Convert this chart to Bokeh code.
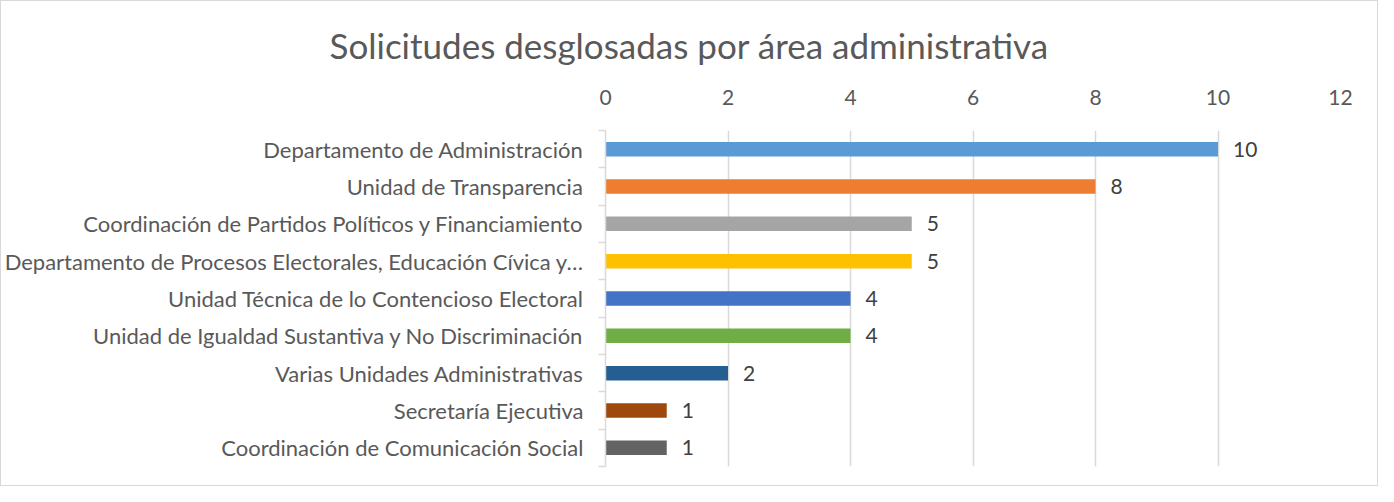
from bokeh.plotting import figure
from bokeh.models import Range1d, FixedTicker, ColumnDataSource
from bokeh.core.properties import value
from bokeh.embed import file_html
from bokeh.resources import INLINE

categories = [
    "Departamento de Administración",
    "Unidad de Transparencia",
    "Coordinación de Partidos Políticos y Financiamiento",
    "Departamento de Procesos Electorales, Educación Cívica y…",
    "Unidad Técnica de lo Contencioso Electoral",
    "Unidad de Igualdad Sustantiva y No Discriminación",
    "Varias Unidades Administrativas",
    "Secretaría Ejecutiva",
    "Coordinación de Comunicación Social",
]
values = [10, 8, 5, 5, 4, 4, 2, 1, 1]
colors = ["#5B9BD5", "#ED7D31", "#A5A5A5", "#FFC000", "#4472C4",
          "#70AD47", "#255E91", "#9E480E", "#636363"]
x_ticks = [0, 2, 4, 6, 8, 10, 12]

FONT = "Lato"
n = len(categories)
pos = [i + 0.5 for i in range(n)]
bounds = [float(i) for i in range(n + 1)]

src = ColumnDataSource(dict(y=pos, v=values, c=colors, lab=[str(v) for v in values]))

p = figure(width=1378, height=486, output_backend="svg", toolbar_location=None,
           x_range=Range1d(0, 12), y_range=Range1d(n, 0),
           x_axis_location="above", min_border_left=604, min_border_right=39,
           min_border_top=128, min_border_bottom=21,
           title="Solicitudes desglosadas por área administrativa")
p.outline_line_color = None
p.background_fill_color = "white"
p.border_fill_color = "white"

p.title.align = "left"
p.title.offset = -276
p.title.text_font = FONT
p.title.text_font_size = "35px"
p.title.text_font_style = "normal"
p.title.text_color = "#595959"
p.title.standoff = 41

p.hbar(y="y", right="v", left=0, height=0.39, fill_color="c", line_color=None, source=src)
p.text(x="v", y="y", text="lab", source=src, x_offset=15, text_align="left",
       text_baseline="middle", text_font=value(FONT), text_font_size="21px",
       text_color="#404040")

# x axis (top)
xa = p.xaxis[0]
xa.ticker = FixedTicker(ticks=x_ticks)
xa.axis_line_color = None
xa.major_tick_line_color = None
xa.minor_tick_line_color = None
xa.major_label_text_font = FONT
xa.major_label_text_font_size = "21px"
xa.major_label_text_color = "#595959"
xa.major_label_standoff = 20

# y axis (left)
ya = p.yaxis[0]
ya.ticker = FixedTicker(ticks=pos, minor_ticks=bounds)
ya.major_label_overrides = {y: c for y, c in zip(pos, categories)}
ya.axis_line_color = "#d9d9d9"
ya.axis_line_width = 1.5
ya.major_tick_out = 0
ya.major_tick_in = 0
ya.minor_tick_out = 7
ya.minor_tick_in = 0
ya.minor_tick_line_color = "#d9d9d9"
ya.minor_tick_line_width = 1.5
ya.major_label_text_font = FONT
ya.major_label_text_font_size = "22px"
ya.major_label_text_color = "#595959"
ya.major_label_standoff = 15

p.xgrid.ticker = FixedTicker(ticks=x_ticks)
p.xgrid.grid_line_color = "#d9d9d9"
p.xgrid.grid_line_width = 1.5
p.ygrid.grid_line_color = None

p.styles = {"border": "1px solid #d9d9d9"}

open("out.html", "w").write(file_html(p, INLINE))
